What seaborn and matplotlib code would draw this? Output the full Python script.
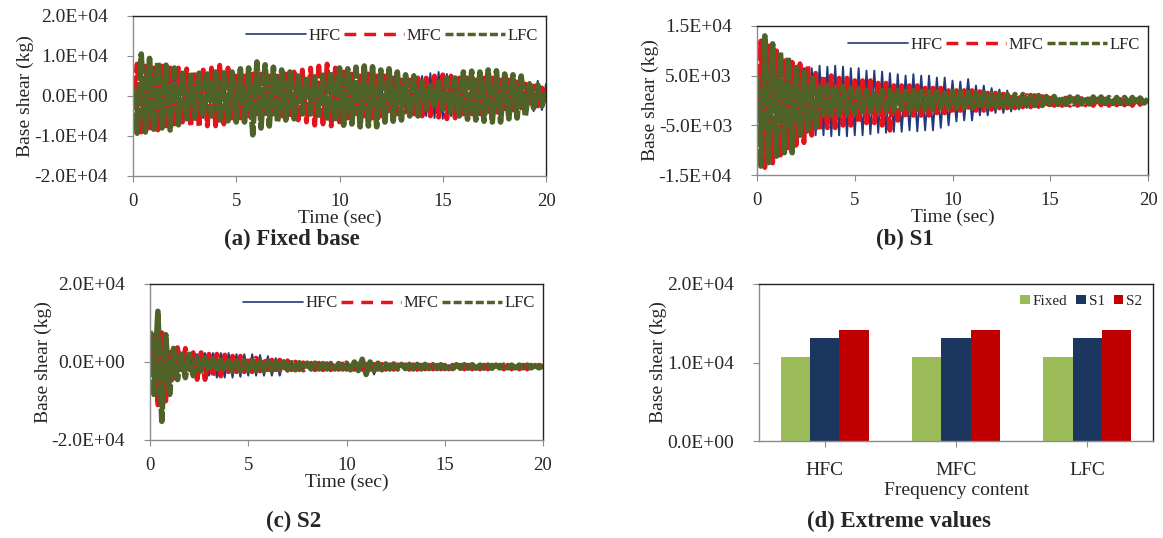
import numpy as np
import pandas as pd
import matplotlib
matplotlib.use("Agg")
import matplotlib.pyplot as plt
from matplotlib.lines import Line2D
from matplotlib.ticker import FuncFormatter
import seaborn as sns

sns.set_style("ticks")
plt.rcParams['font.family'] = ['Liberation Serif', 'DejaVu Serif']

# time history peaks, every 0.2 s (x1000 kg)
time = np.linspace(0, 20, 101)

a_hfc = [0.5, -6.0, 6.5, -5.5, 5.5, -5.0, 5.0, -5.0, 4.5, -4.5,
         4.5, -5.0, 5.0, -6.0, 4.5, -6.0, 4.5, -5.5, 4.0, -5.0,
         4.0, -4.5, 4.0, -4.0, 4.0, -4.0, 4.5, -4.0, 4.0, -4.5,
         4.0, -4.0, 4.5, -4.0, 4.0, -4.0, 4.5, -4.5, 4.0, -4.0,
         4.0, -4.0, 4.5, -4.0, 4.0, -4.5, 4.0, -4.0, 3.5, -4.0,
         3.5, -3.5, 4.0, -3.5, 3.5, -4.0, 4.0, -4.0, 4.0, -4.0,
         4.0, -4.0, 4.5, -4.5, 4.5, -4.5, 5.0, -5.0, 5.5, -5.0,
         5.0, -5.0, 5.7, -5.5, 6.0, -5.7, 5.5, -5.0, 4.5, -4.5,
         4.0, -4.0, 3.5, -3.5, 3.5, -3.5, 3.5, -3.5, 3.5, -3.5,
         3.5, -3.5, 3.5, -3.5, 3.5, -3.5, 3.5, -3.8, 3.8, -3.5,
         3.0]
a_mfc = [-1.0, 8.0, -9.0, 7.5, -8.0, 7.0, -8.5, 7.5, -7.5, 7.0,
         -7.0, 7.0, -6.5, 6.8, -7.5, 6.0, -7.7, 6.5, -7.5, 7.0,
         -7.5, 7.7, -7.0, 7.0, -5.5, 5.0, -5.5, 5.0, -5.0, 5.5,
         -5.0, 5.5, -5.0, 5.0, -4.5, 5.0, -5.0, 5.5, -5.5, 6.0,
         -6.0, 6.5, -6.5, 7.0, -7.3, 7.5, -7.0, 8.0, -7.5, 7.0,
         -6.5, 6.0, -5.5, 5.5, -5.0, 5.0, -5.0, 5.5, -5.5, 5.0,
         -5.0, 5.0, -4.5, 4.5, -4.5, 4.0, -4.0, 4.0, -4.5, 4.5,
         -5.0, 4.5, -5.0, 5.0, -5.3, 5.3, -5.7, 5.0, -5.5, 4.5,
         -4.5, 4.5, -4.5, 4.0, -4.5, 4.5, -4.5, 4.5, -4.0, 4.0,
         -4.0, 4.0, -3.5, 3.5, -3.0, 3.0, -2.5, 2.5, -2.5, 2.0,
         -0.5]
a_lfc = [2.0, -9.3, 10.5, -9.0, 9.4, -8.3, 8.5, -8.0, 7.7, -8.5,
         7.0, -7.2, 5.7, -5.7, 5.2, -5.5, 5.7, -5.3, 5.5, -5.0,
         6.0, -6.0, 5.8, -6.2, 6.0, -6.5, 6.8, -6.5, 7.0, -9.7,
         8.5, -8.0, 7.8, -7.5, 7.2, -6.5, 6.5, -6.0, 6.0, -5.7,
         5.0, -4.5, 5.0, -4.5, 4.8, -4.8, 5.2, -5.5, 6.0, -6.5,
         7.0, -7.3, 6.8, -7.0, 7.2, -7.7, 7.5, -7.5, 7.3, -7.7,
         6.5, -6.5, 6.8, -6.3, 6.0, -6.0, 5.3, -5.0, 5.0, -5.0,
         3.5, -3.2, 3.3, -3.0, 3.5, -3.3, 4.5, -4.7, 4.5, -5.0,
         6.0, -5.8, 6.2, -6.0, 6.0, -6.3, 6.5, -6.5, 6.3, -6.5,
         5.5, -5.7, 5.3, -5.5, 5.0, -5.0, 3.0, -3.0, 2.8, -2.5,
         1.0]

b_hfc = [2.0, -9.0, 11.0, -10.0, 9.5, -9.0, 8.5, -8.5, 8.0, -8.0,
         7.0, -7.0, 6.5, -6.5, 6.5, -7.0, 7.0, -7.0, 6.8, -7.2,
         7.0, -7.0, 6.8, -7.2, 6.5, -7.0, 6.5, -7.0, 6.0, -6.8,
         6.0, -6.5, 5.8, -6.5, 5.5, -6.3, 5.3, -6.3, 5.0, -6.0,
         5.3, -6.2, 5.0, -6.0, 5.0, -6.0, 4.6, -5.5, 4.6, -5.0,
         4.0, -4.2, 3.8, -4.0, 4.3, -4.0, 3.0, -3.0, 3.0, -3.0,
         2.5, -2.5, 2.2, -2.5, 2.0, -2.2, 1.5, -1.8, 1.5, -1.5,
         1.2, -1.2, 1.0, -1.0, 1.0, -1.0, 0.8, -0.8, 0.6, -0.6,
         0.5, -0.6, 0.5, -0.5, 0.5, -0.5, 0.5, -0.5, 0.5, -0.5,
         0.5, -0.5, 0.4, -0.5, 0.4, -0.4, 0.4, -0.4, 0.4, -0.4,
         0.2]
b_mfc = [-3.0, 12.0, -13.5, 11.0, -12.6, 10.0, -11.0, 8.0, -10.2, 7.7,
         -9.0, 7.4, -8.5, 7.0, -7.0, 5.5, -6.0, 5.0, -5.5, 5.0,
         -5.5, 4.5, -5.0, 4.5, -5.0, 4.0, -4.5, 4.0, -4.5, 4.0,
         -4.5, 3.5, -5.0, 3.5, -6.0, 3.0, -4.0, 3.0, -3.5, 3.0,
         -3.0, 3.0, -3.0, 2.5, -3.0, 2.5, -2.5, 2.5, -2.5, 2.0,
         -2.5, 2.0, -2.0, 2.0, -2.0, 2.0, -2.0, 1.8, -2.0, 1.5,
         -1.8, 1.5, -1.5, 1.3, -1.5, 1.3, -1.5, 1.2, -1.3, 1.0,
         -1.3, 1.0, -1.2, 0.8, -1.2, 0.5, -1.0, 0.5, -1.0, 0.5,
         -1.0, 0.4, -1.0, 0.4, -0.9, 0.3, -1.0, 0.3, -0.9, 0.3,
         -1.0, 0.3, -0.9, 0.2, -0.9, 0.3, -1.0, 0.2, -0.8, 0.2,
         -0.4]
b_lfc = [5.0, -13.2, 13.0, -12.5, 11.4, -11.2, 9.7, -10.5, 8.7, -10.5,
         6.5, -7.0, 5.7, -6.0, 4.5, -5.5, 3.3, -3.0, 3.0, -3.0,
         3.0, -2.8, 2.8, -2.5, 2.5, -2.5, 2.2, -2.2, 2.0, -2.2,
         2.0, -2.0, 2.0, -2.0, 2.0, -2.0, 2.0, -1.8, 1.8, -2.0,
         2.0, -1.8, 1.8, -1.8, 1.8, -1.8, 1.8, -1.5, 1.8, -1.5,
         1.8, -1.5, 1.8, -1.5, 1.6, -1.5, 1.5, -1.5, 1.5, -1.3,
         1.3, -1.3, 1.2, -1.2, 1.2, -1.2, 1.2, -1.2, 1.2, -1.0,
         1.0, -1.0, 1.0, -1.0, 0.8, -0.8, 0.8, -0.8, 0.8, -0.8,
         0.7, -0.7, 0.7, -0.7, 0.7, -0.7, 0.7, -0.7, 0.7, -0.6,
         0.6, -0.6, 0.6, -0.6, 0.6, -0.6, 0.6, -0.6, 0.5, -0.5,
         0.3]

c_hfc = [1.0, -4.5, 5.0, -2.7, 4.0, -2.5, 2.0, -2.0, 2.0, -2.0,
         2.0, -2.0, 2.0, -2.5, 2.3, -3.5, 2.3, -4.0, 2.3, -4.0,
         2.3, -4.0, 2.0, -3.8, 2.0, -3.5, 2.0, -3.5, 1.8, -3.5,
         1.5, -3.5, 1.0, -3.5, 0.5, -2.5, 0.3, -2.2, 0.0, -2.0,
         0.0, -2.0, -0.2, -2.0, -0.2, -2.0, -0.3, -2.0, -0.3, -2.0,
         -0.3, -2.0, -0.3, -2.2, -0.2, -2.5, -0.2, -3.2, -0.4, -2.2,
         -0.6, -1.8, -0.7, -1.7, -0.7, -1.7, -0.7, -1.7, -0.7, -1.7,
         -0.7, -1.7, -0.7, -1.6, -0.7, -1.6, -0.8, -1.6, -0.8, -1.6,
         -0.8, -1.6, -0.8, -1.6, -0.8, -1.6, -0.8, -1.6, -0.8, -1.6,
         -0.8, -1.6, -0.8, -1.6, -0.8, -1.6, -0.8, -1.6, -0.8, -1.6,
         -1.2]
c_mfc = [-2.0, 7.0, -11.0, 7.5, -10.0, 2.5, -5.0, 3.7, -1.9, 3.5,
         -2.0, 2.4, -4.5, 2.4, -4.5, 2.0, -3.6, 2.0, -3.6, 1.8,
         -2.5, 1.5, -2.5, 1.5, -2.5, 1.2, -2.5, 1.0, -2.3, 0.8,
         -2.0, 0.5, -2.0, 0.5, -2.2, 0.3, -2.0, 0.0, -2.0, -0.2,
         -2.0, -0.3, -2.0, -0.3, -2.0, -0.4, -2.0, -0.4, -1.9, -0.5,
         -1.9, -0.5, -1.9, -0.5, -1.9, -0.6, -1.9, -0.6, -1.9, -0.6,
         -1.9, -0.7, -1.9, -0.7, -1.9, -0.7, -1.9, -0.7, -1.9, -0.8,
         -1.8, -0.8, -1.8, -0.8, -1.8, -0.8, -1.8, -0.8, -1.8, -0.8,
         -1.8, -0.8, -1.8, -0.8, -1.8, -0.8, -1.8, -0.8, -1.8, -0.8,
         -1.8, -0.8, -1.8, -0.8, -1.8, -0.8, -1.8, -0.8, -1.8, -0.8,
         -1.2]
c_lfc = [8.0, -8.3, 13.0, -15.2, 7.0, -8.3, 3.5, -4.5, 2.0, -4.0,
         2.0, -3.5, 1.0, -2.3, 1.0, -2.3, 0.8, -2.3, 0.5, -2.3,
         0.3, -2.3, 0.3, -2.3, 0.3, -2.2, 0.3, -2.2, 0.2, -2.2,
         0.2, -2.2, 0.0, -2.0, 0.0, -2.0, -0.2, -2.0, -0.2, -2.0,
         -0.3, -1.8, -0.3, -1.8, -0.4, -1.8, -0.4, -1.8, -0.4, -1.8,
         -0.3, -2.0, 0.0, -2.2, 0.7, -3.2, 0.0, -2.2, -0.3, -2.0,
         -0.5, -1.8, -0.5, -1.8, -0.6, -1.7, -0.6, -1.8, -0.6, -1.8,
         -0.6, -1.7, -0.7, -1.7, -0.7, -1.7, -0.7, -1.7, -0.7, -1.6,
         -0.7, -1.6, -0.7, -1.6, -0.8, -1.6, -0.8, -1.6, -0.8, -1.5,
         -0.8, -1.5, -0.8, -1.5, -0.8, -1.5, -0.8, -1.5, -0.9, -1.5,
         -1.0]

# extreme values (kg)
contents = ['HFC', 'MFC', 'LFC']
bases = ['Fixed', 'S1', 'S2']
peak_fixed = [10700, 10700, 10700]
peak_s1 = [13100, 13100, 13100]
peak_s2 = [14200, 14200, 14200]

series_names = ['HFC', 'MFC', 'LFC']
line_colors = ['#22397a', '#e3141b', '#4f6228']
line_styles = ['-', (0, (5.0, 0.6)), (0, (4.0, 0.4))]
line_widths = [1.4, 3.5, 4.0]
legend_styles = ['-', (0, (3.4, 2.3)), (0, (2.3, 0.9))]
legend_widths = [1.2, 2.5, 2.5]

fig = plt.figure(figsize=(11.63, 5.38), dpi=100)
W, H = 1163, 538


def box(l, t, r, b):
    return [l / W, 1 - b / H, (r - l) / W, (b - t) / H]


def style_axes(ax):
    for s in ['left', 'bottom']:
        ax.spines[s].set_color('#8c8c8c')
    for s in ['top', 'right']:
        ax.spines[s].set_color('#222222')
    for s in ax.spines.values():
        s.set_linewidth(1.0)
    ax.tick_params(axis='y', direction='out', length=4, pad=14,
                   labelsize=14, color='#8c8c8c')
    ax.tick_params(axis='x', direction='out', length=4, pad=8,
                   labelsize=13.5, color='#8c8c8c')
    ax.yaxis.set_major_formatter(FuncFormatter(lambda v, p: '{:.1E}'.format(v)))


def history(ax, hfc, mfc, lfc, yticks):
    for vals, name, c, ls, lw in zip([hfc, mfc, lfc], series_names,
                                     line_colors, line_styles, line_widths):
        sns.lineplot(x=time, y=np.array(vals) * 1000, color=c, linestyle=ls,
                     linewidth=lw, estimator=None, sort=False, ax=ax)
    ax.set_xlim(0, 20)
    ax.set_xticks([0, 5, 10, 15, 20])
    ax.set_ylim(yticks[0], yticks[-1])
    ax.set_yticks(yticks)
    style_axes(ax)
    ax.set_xlabel('Time (sec)', fontsize=14, labelpad=0)
    ax.set_ylabel('Base shear (kg)', fontsize=14, labelpad=0)
    handles = [Line2D([], [], color=c, linestyle=ls, linewidth=lw)
               for c, ls, lw in zip(line_colors, legend_styles, legend_widths)]
    ax.legend(handles, series_names, ncol=3, loc='upper right', frameon=False,
              fontsize=12, handlelength=3.6, handletextpad=0.15,
              columnspacing=0.2, borderaxespad=0.1, bbox_to_anchor=(1.0, 0.98))


ax_a = fig.add_axes(box(133, 16, 546, 176))
history(ax_a, a_hfc, a_mfc, a_lfc, [-20000, -10000, 0, 10000, 20000])

ax_b = fig.add_axes(box(757, 26, 1148, 175))
history(ax_b, b_hfc, b_mfc, b_lfc, [-15000, -5000, 5000, 15000])

ax_c = fig.add_axes(box(150, 284, 543, 440))
history(ax_c, c_hfc, c_mfc, c_lfc, [-20000, 0, 20000])

ax_d = fig.add_axes(box(759, 284, 1153, 441))
df_bar = pd.DataFrame({
    'content': contents * 3,
    'base': ['Fixed'] * 3 + ['S1'] * 3 + ['S2'] * 3,
    'shear': peak_fixed + peak_s1 + peak_s2,
})
sns.barplot(data=df_bar, x='content', y='shear', hue='base', hue_order=bases,
            palette=['#9bbb59', '#1b375f', '#c00000'], width=0.67,
            saturation=1, linewidth=0, ax=ax_d)
ax_d.set_ylim(0, 20000)
ax_d.set_yticks([0, 10000, 20000])
style_axes(ax_d)
ax_d.tick_params(axis='x', pad=11, labelsize=14)
ax_d.set_xlabel('Frequency content', fontsize=14, labelpad=2)
ax_d.set_ylabel('Base shear (kg)', fontsize=14, labelpad=0)
h, l = ax_d.get_legend_handles_labels()
ax_d.legend(h, l, ncol=3, loc='upper right', frameon=False, fontsize=11,
            handlelength=0.6, handleheight=0.6, handletextpad=0.2,
            columnspacing=0.6, borderaxespad=0.3)

captions = [('(a) Fixed base', 292, 239), ('(b) S1', 905, 239),
            ('(c) S2', 294, 521), ('(d) Extreme values', 899, 521)]
for txt, x, y in captions:
    fig.text(x / W, 1 - y / H, txt, ha='center', va='center',
             fontsize=16.5, fontweight='bold')

fig.savefig('out.png', dpi=100)
